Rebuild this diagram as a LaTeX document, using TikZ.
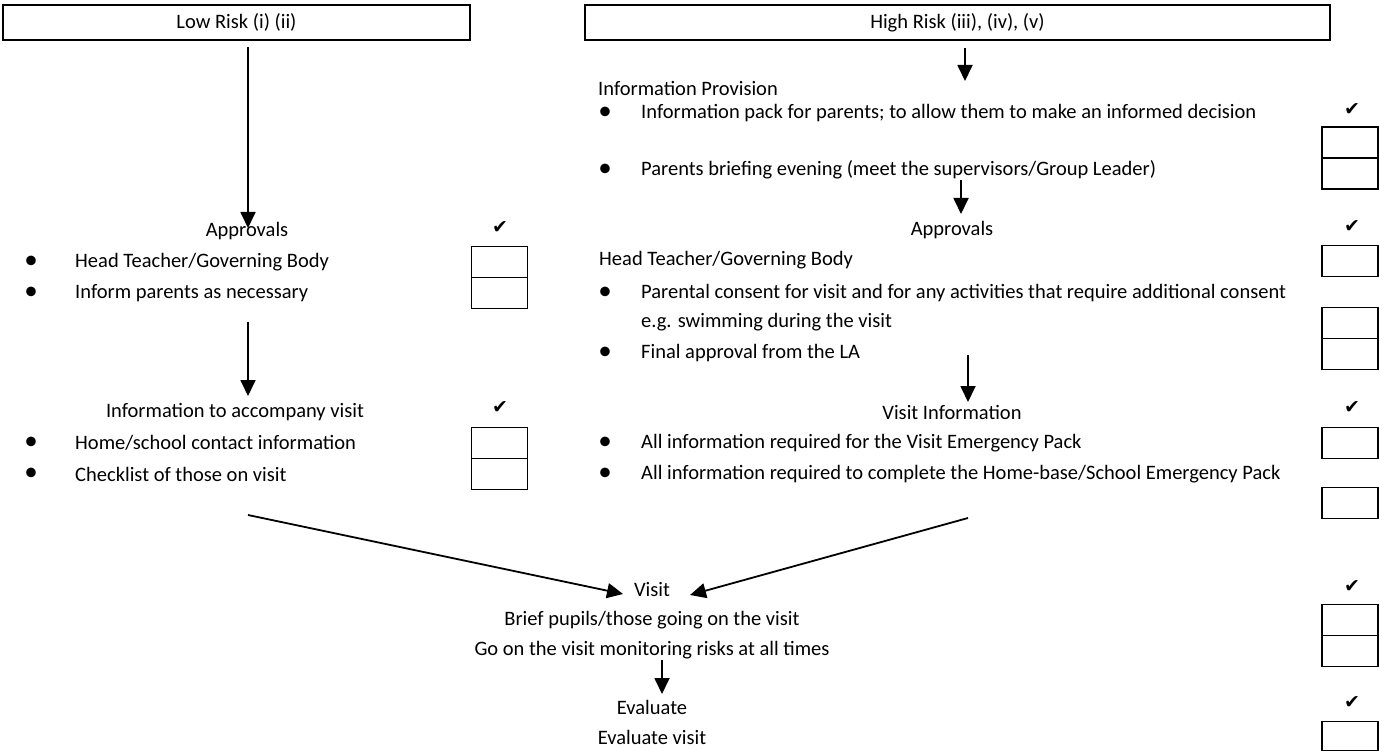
\documentclass[tikz,border=0pt]{standalone}
\usepackage{fontspec}
\setmainfont{Carlito}
\newfontfamily\symfont{DejaVu Sans}
\usetikzlibrary{arrows.meta}
\begin{document}
\begin{tikzpicture}[x=1pt,y=-1pt,
  txt/.style={inner sep=0pt, font=\fontsize{20.5}{24}\selectfont},
  lt/.style={txt, anchor=west},
  bul/.style={inner sep=0pt, font=\fontsize{27}{27}\selectfont},
  chk/.style={inner sep=0pt, font=\symfont\fontsize{19}{19}\selectfont},
  cb/.style={draw, line width=1.8pt, outer sep=0pt, minimum width=56pt, minimum height=31pt, inner sep=0pt},
  hdr/.style={draw, line width=1.3pt, inner sep=0pt, font=\fontsize{20.5}{24}\selectfont},
  arr/.style={line width=1.8pt, -{Triangle[width=15pt,length=16pt]}}]
\useasboundingbox (0,0) rectangle (1379,751);
% headers
\node[hdr, minimum width=467pt, minimum height=35pt] (low) at (236.5,22.5) {Low Risk (i) (ii)};
\node[hdr, minimum width=745pt, minimum height=35pt] (high) at (957.5,22.5) {High Risk (iii), (iv), (v)};
% ---------- left column ----------
\node[txt] (lappr) at (247,231) {Approvals};
\node[chk] (lc1) at (500,228) {✔};
\node[cb] (lx1) at (499.5,262) {};
\node[cb, anchor=north] (lx2) at (lx1.south) {};
\node[bul] (lbu1) at (31,262) {•};
\node[lt] (lt1) at (75,262) {Head Teacher/Governing Body};
\node[bul] (lbu2) at (31,293) {•};
\node[lt] (lt2) at (75,293) {Inform parents as necessary};
\node[txt] (linfo) at (235,412) {Information to accompany visit};
\node[chk] (lc2) at (500,408) {✔};
\node[cb] (lx3) at (499.5,443) {};
\node[cb, anchor=north] (lx4) at (lx3.south) {};
\node[bul] (lbu3) at (31,443) {•};
\node[lt] (lt3) at (75,443) {Home/school contact information};
\node[bul] (lbu4) at (31,474) {•};
\node[lt] (lt4) at (75,474) {Checklist of those on visit};
\coordinate (la1s) at (248,47);
\coordinate (la1e) at (248,228);
\coordinate (la2s) at (248,322);
\coordinate (la2e) at (248,396);
\draw[arr] (la1s) -- (la1e);
\draw[arr] (la2s) -- (la2e);
% ---------- right column ----------
\coordinate (ra1s) at (965,48);
\coordinate (ra1e) at (965,81);
\draw[arr] (ra1s) -- (ra1e);
\node[lt] (rprov) at (598,88) {Information Provision};
\node[bul] (rbu1) at (605,113) {•};
\node[lt] (rt1) at (641,113) {Information pack for parents; to allow them to make an informed decision};
\node[chk] (rc1) at (1352,110) {✔};
\node[cb] (rx1) at (1350,142.5) {};
\node[cb, anchor=north] (rx2) at (rx1.south) {};
\node[bul] (rbu2) at (605,170) {•};
\node[lt] (rt2) at (641,170) {Parents briefing evening (meet the supervisors/Group Leader)};
\node[txt] (rappr) at (952,230) {Approvals};
\coordinate (ra2s) at (961,180);
\coordinate (ra2e) at (961,214);
\draw[arr] (ra2s) -- (ra2e);
\node[chk] (rc2) at (1352,227) {✔};
\node[cb] (rx3) at (1350,261) {};
\node[lt] (rhead) at (599,260) {Head Teacher/Governing Body};
\node[bul] (rbu3) at (605,293) {•};
\node[lt] (rt3) at (641,293) {Parental consent for visit and for any activities that require additional consent};
\node[lt] (rt3b) at (641,322) {e.g. swimming during the visit};
\node[cb] (rx4) at (1350,323) {};
\node[cb, anchor=north] (rx5) at (rx4.south) {};
\node[bul] (rbu4) at (605,353) {•};
\node[lt] (rt4) at (641,353) {Final approval from the LA};
\node[txt] (rvinfo) at (952,412) {Visit Information};
\coordinate (ra3s) at (968,355);
\coordinate (ra3e) at (968,402);
\draw[arr] (ra3s) -- (ra3e);
\node[chk] (rc3) at (1352,408) {✔};
\node[cb] (rx6) at (1350,443) {};
\node[cb] (rx7) at (1350,503) {};
\node[bul] (rbu5) at (605,443) {•};
\node[lt] (rt5) at (641,443) {All information required for the Visit Emergency Pack};
\node[bul] (rbu6) at (605,474) {•};
\node[lt] (rt6) at (641,474) {All information required to complete the Home-base/School Emergency Pack};
% ---------- bottom ----------
\node[txt] (visit) at (652,590) {Visit};
\node[txt] (brief) at (652,620) {Brief pupils/those going on the visit};
\node[txt] (go) at (652,650) {Go on the visit monitoring risks at all times};
\node[txt] (eval) at (652,707) {Evaluate};
\node[txt] (evalv) at (652,737) {Evaluate visit};
\coordinate (ls) at (248,515);
\coordinate (le) at (623,594);
\coordinate (rs) at (968,518);
\coordinate (re) at (690,595);
\draw[arr] (ls) -- (le);
\draw[arr] (rs) -- (re);
\coordinate (es) at (662,660);
\coordinate (ee) at (662,694);
\draw[arr] (es) -- (ee);
\node[chk] (rc4) at (1352,587) {✔};
\node[cb] (rx8) at (1350,620) {};
\node[cb, anchor=north] (rx9) at (rx8.south) {};
\node[chk] (rc5) at (1352,703) {✔};
\node[cb, minimum height=29pt] (rx10) at (1350,736) {};
\end{tikzpicture}
\end{document}
